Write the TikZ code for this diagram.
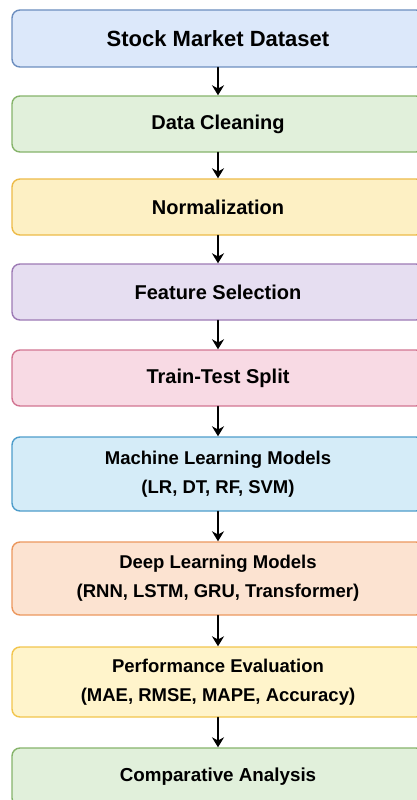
\documentclass[tikz,border=0pt]{standalone}
\usepackage{fontspec}
\setmainfont{Liberation Sans}
\usepackage{tikz}
\usetikzlibrary{arrows.meta}
\definecolor{dsfill}{HTML}{DCE8FA}
\definecolor{dsline}{HTML}{6C8EBF}
\definecolor{gnfill}{HTML}{E1F0DB}
\definecolor{gnline}{HTML}{86B46B}
\definecolor{ylfill}{HTML}{FDF0C4}
\definecolor{ylline}{HTML}{EDBB48}
\definecolor{pufill}{HTML}{E6DEF1}
\definecolor{puline}{HTML}{9D7AB5}
\definecolor{pkfill}{HTML}{F8DAE4}
\definecolor{pkline}{HTML}{D27592}
\definecolor{cyfill}{HTML}{D5ECF8}
\definecolor{cyline}{HTML}{4E9DCB}
\definecolor{orfill}{HTML}{FCE3D1}
\definecolor{orline}{HTML}{EC985E}
\definecolor{lyfill}{HTML}{FFF4CB}
\definecolor{lyline}{HTML}{F2C54D}
\tikzset{
  every picture/.style={line join=round, line cap=round, >=Stealth},
  stage/.style={draw, rounded corners=8pt, line width=1.4pt, inner sep=0pt,
    minimum width=412pt, minimum height=56pt, text=black,
    font=\bfseries\fontsize{20}{24}\selectfont},
  twoline/.style={align=center, font=\bfseries\fontsize{18.5}{29}\selectfont},
  flow/.style={-{Stealth[length=10pt,width=12pt]}, line width=2.2pt},
}

\begin{document}
\begin{tikzpicture}[x=1pt,y=-1pt]
\useasboundingbox[fill=white] (0,0) rectangle (417,800);
\clip (0,0) rectangle (417,800);
\node[stage,fill=dsfill,draw=dsline,minimum height=57pt,font=\bfseries\fontsize{22}{26}\selectfont] (data) at (218,38.5) {Stock Market Dataset};
\node[stage,fill=gnfill,draw=gnline] (clean) at (218,124) {Data Cleaning};
\node[stage,fill=ylfill,draw=ylline] (norm) at (218,207) {Normalization};
\node[stage,fill=pufill,draw=puline] (feat) at (218,292) {Feature Selection};
\node[stage,fill=pkfill,draw=pkline] (split) at (218,378) {Train-Test Split};
\node[stage,twoline,fill=cyfill,draw=cyline,minimum height=74pt] (ml) at (218,474) {Machine Learning Models\\(LR, DT, RF, SVM)};
\node[stage,twoline,fill=orfill,draw=orline,minimum height=73pt] (dl) at (218,578.5) {Deep Learning Models\\(RNN, LSTM, GRU, Transformer)};
\node[stage,twoline,fill=lyfill,draw=lyline,minimum height=70pt] (eval) at (218,682) {Performance Evaluation\\(MAE, RMSE, MAPE, Accuracy)};
\node[stage,fill=gnfill,draw=gnline,minimum height=58pt,font=\bfseries\fontsize{18.8}{24}\selectfont] (comp) at (218,777) {Comparative Analysis};
\draw[flow] (data) -- (clean);
\draw[flow] (clean) -- (norm);
\draw[flow] (norm) -- (feat);
\draw[flow] (feat) -- (split);
\draw[flow] (split) -- (ml);
\draw[flow] (ml) -- (dl);
\draw[flow] (dl) -- (eval);
\draw[flow] (eval) -- (comp);
\end{tikzpicture}
\end{document}
